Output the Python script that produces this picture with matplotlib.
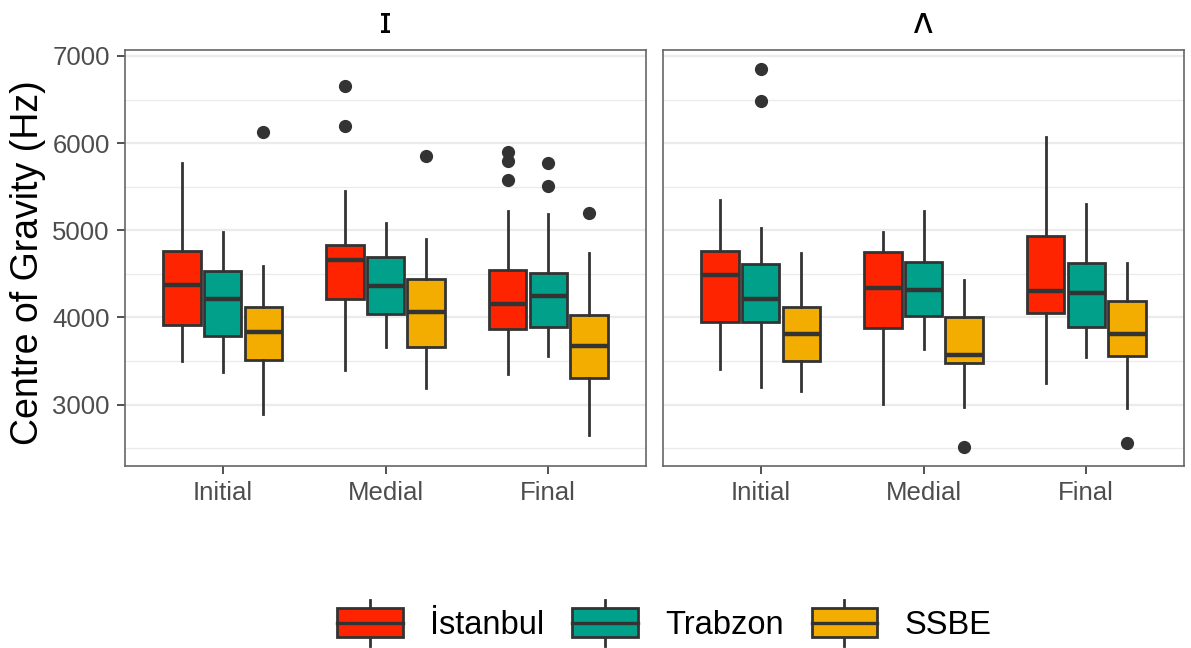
import matplotlib
matplotlib.use("Agg")
import matplotlib.pyplot as plt
import numpy as np
from matplotlib.patches import Rectangle
from matplotlib.lines import Line2D
from matplotlib.legend_handler import HandlerBase

plt.rcParams['font.family'] = ['Liberation Sans', 'DejaVu Sans']

# data, order: [vowel][position][accent]
vowels = ["ɪ", "ʌ"]
positions = ["Initial", "Medial", "Final"]
accents = ["İstanbul", "Trabzon", "SSBE"]
colors = ["#FF2400", "#00A08A", "#F2AD00"]

whislo = [[[3495, 3369, 2897], [3392, 3659, 3190], [3350, 3560, 2646]],
          [[3411, 3202, 3160], [3011, 3636, 2973], [3248, 3541, 2962]]]
q1 = [[[3914, 3781, 3514], [4208, 4036, 3655], [3865, 3895, 3305]],
      [[3952, 3952, 3495], [3876, 4017, 3476], [4055, 3888, 3560]]]
med = [[[4371, 4215, 3838], [4657, 4360, 4067], [4154, 4246, 3667]],
       [[4486, 4208, 3808], [4341, 4314, 3571], [4307, 4276, 3808]]]
q3 = [[[4764, 4535, 4116], [4836, 4695, 4436], [4543, 4505, 4029]],
      [[4764, 4608, 4124], [4745, 4638, 4010], [4931, 4627, 4189]]]
whishi = [[[5774, 4981, 4589], [5446, 5084, 4905], [5221, 5183, 4741]],
          [[5350, 5027, 4741], [4981, 5217, 4429], [6067, 5305, 4619]]]
fliers = [[[[], [], [6124]], [[6200, 6653], [], [5857]], [[5571, 5800, 5895], [5510, 5770], [5198]]],
          [[[], [6486, 6851], []], [[], [], [2512]], [[], [], [2562]]]]

edge = "#333333"
W, H = 1191, 648
fig = plt.figure(figsize=(W / 100, H / 100), dpi=100)
panels = [(125, 50, 521, 416), (663, 50, 521, 416)]

offsets = [-0.25, 0.0, 0.25]
axes = []
for v, (px, py, pw, ph) in enumerate(panels):
    ax = fig.add_axes([px / W, 1 - (py + ph) / H, pw / W, ph / H])
    axes.append(ax)
    for a in range(3):
        stats = []
        for p in range(3):
            stats.append(dict(whislo=whislo[v][p][a], q1=q1[v][p][a], med=med[v][p][a],
                              q3=q3[v][p][a], whishi=whishi[v][p][a], fliers=fliers[v][p][a]))
        pos = np.arange(1, 4) + offsets[a]
        ax.bxp(stats, positions=pos, widths=0.23, showcaps=False, patch_artist=True,
               boxprops=dict(facecolor=colors[a], edgecolor=edge, linewidth=2.0),
               medianprops=dict(color=edge, linewidth=3.2, solid_capstyle='butt'),
               whiskerprops=dict(color=edge, linewidth=2.0),
               flierprops=dict(marker='o', markerfacecolor=edge, markeredgecolor=edge,
                               markersize=8.5, linestyle='none'),
               zorder=3)
    ax.set_xlim(0.4, 3.6)
    ax.set_ylim(2295, 7068)
    ax.set_xticks([1, 2, 3])
    ax.set_xticklabels(positions)
    ax.set_yticks([3000, 4000, 5000, 6000, 7000])
    ax.set_yticks([2500, 3500, 4500, 5500, 6500], minor=True)
    ax.grid(True, axis='y', which='major', color='#EBEBEB', linewidth=1.6, zorder=0)
    ax.grid(True, axis='y', which='minor', color='#EBEBEB', linewidth=0.9, zorder=0)
    ax.set_axisbelow(True)
    ax.tick_params(axis='both', which='major', length=6, width=1.2, color=edge,
                   labelsize=18.5, labelcolor='#4D4D4D', pad=5)
    ax.tick_params(axis='y', which='minor', length=0)
    for s in ax.spines.values():
        s.set_color('#666666')
        s.set_linewidth(1.2)
    ax.set_title(vowels[v], fontsize=25, pad=12, color='black',
                 family=['Open Sans', 'DejaVu Sans'])
    if v == 1:
        ax.tick_params(axis='y', which='both', left=False, labelleft=False)

axes[0].set_ylabel("Centre of Gravity (Hz)", fontsize=27)
axes[0].yaxis.set_label_coords(-0.152, 0.49)


class BoxKey(HandlerBase):
    def create_artists(self, legend, orig_handle, xdescent, ydescent, width, height, fontsize, trans):
        x0, y0 = -xdescent, -ydescent
        fc = orig_handle.get_facecolor()
        rect = Rectangle((x0, y0), width, height, facecolor=fc, edgecolor=edge,
                         linewidth=2.0, transform=trans)
        mid = Line2D([x0, x0 + width], [y0 + height / 2] * 2, color=edge, linewidth=2.4, transform=trans)
        cx = x0 + width / 2
        top = Line2D([cx, cx], [y0 + height, y0 + height * 1.3], color=edge, linewidth=2.0, transform=trans)
        bot = Line2D([cx, cx], [y0, y0 - height * 0.3], color=edge, linewidth=2.0, transform=trans)
        return [top, bot, rect, mid]


handles = [Rectangle((0, 0), 1, 1, facecolor=c) for c in colors]
fig.legend(handles, accents, handler_map={Rectangle: BoxKey()}, loc='center',
           bbox_to_anchor=(0.558, 0.036), ncol=3, frameon=False, fontsize=23.5,
           handlelength=2.0, handleheight=1.0, handletextpad=0.85, columnspacing=0.85)

fig.savefig("out.png", dpi=100)
